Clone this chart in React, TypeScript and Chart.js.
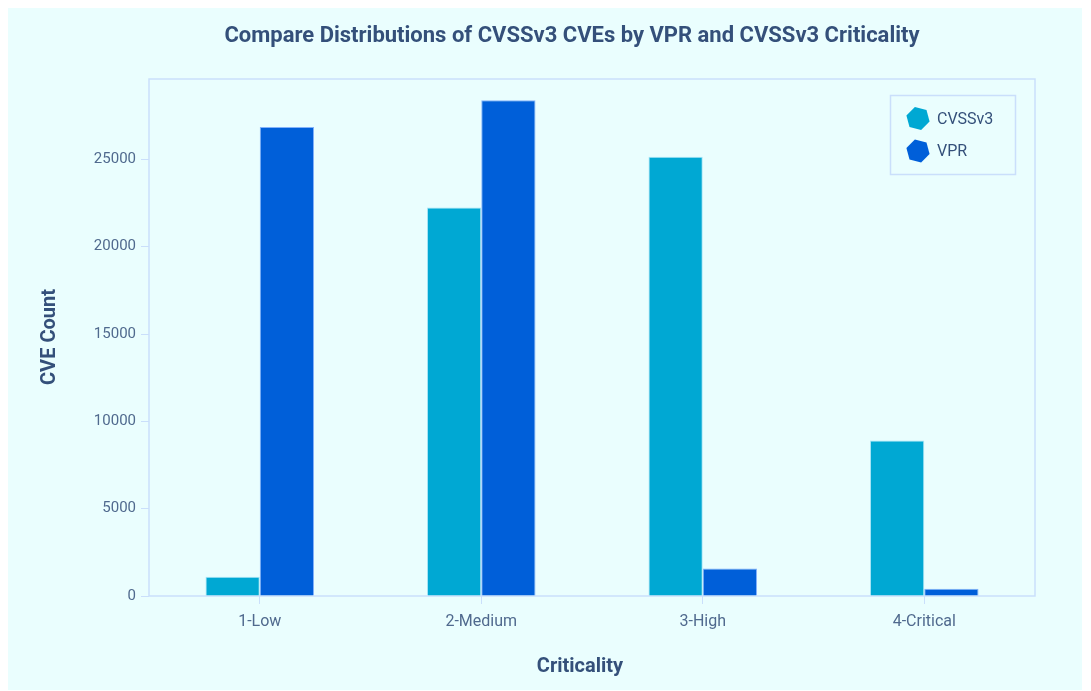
import React, { useEffect, useRef } from "react";
import { Chart, registerables } from "chart.js";

Chart.register(...registerables);

const categories = ["1-Low", "2-Medium", "3-High", "4-Critical"];
const cvssValues = [1100, 22250, 25150, 8900];
const vprValues = [26850, 28380, 1580, 410];
const seriesNames = ["CVSSv3", "VPR"];
const yTicks = [0, 5000, 10000, 15000, 20000, 25000];

const TITLE = "Compare Distributions of CVSSv3 CVEs by VPR and CVSSv3 Criticality";
const X_TITLE = "Criticality";
const Y_TITLE = "CVE Count";

const BG = "#eafefe";
const CVSS_COLOR = "#00a8d3";
const VPR_COLOR = "#005fd9";
const FRAME = "#cadffb";
const TEXT_DARK = "#34507a";
const TEXT_TICK = "#506a8e";
const FONT = "Roboto, 'Noto Sans', sans-serif";

function hexagon(ctx: CanvasRenderingContext2D, cx: number, cy: number, r: number, color: string) {
  ctx.beginPath();
  for (let i = 0; i < 6; i++) {
    const a = (Math.PI / 3) * i + Math.PI / 12;
    const x = cx + r * Math.cos(a);
    const y = cy + r * Math.sin(a);
    if (i === 0) ctx.moveTo(x, y);
    else ctx.lineTo(x, y);
  }
  ctx.closePath();
  ctx.fillStyle = color;
  ctx.fill();
}

const decorPlugin = {
  id: "decor",
  beforeDatasetsDraw(chart: any) {
    const { ctx, chartArea } = chart;
    ctx.save();
    ctx.strokeStyle = FRAME;
    ctx.lineWidth = 1.5;
    ctx.strokeRect(chartArea.left, chartArea.top, chartArea.right - chartArea.left, chartArea.bottom - chartArea.top);
    ctx.restore();
  },
  afterDraw(chart: any) {
    const { ctx } = chart;
    ctx.save();
    // title
    ctx.fillStyle = TEXT_DARK;
    ctx.textAlign = "center";
    ctx.textBaseline = "middle";
    ctx.font = `bold 22px ${FONT}`;
    ctx.fillText(TITLE, 564, 28);
    // x title
    ctx.font = `bold 20px ${FONT}`;
    ctx.fillText(X_TITLE, 572, 659);
    // y title
    ctx.save();
    ctx.translate(42, 329);
    ctx.rotate(-Math.PI / 2);
    ctx.fillText(Y_TITLE, 0, 0);
    ctx.restore();
    // legend
    const lx = 882.5, ly = 87.5, lw = 125, lh = 79;
    ctx.fillStyle = BG;
    ctx.fillRect(lx, ly, lw, lh);
    ctx.strokeStyle = FRAME;
    ctx.lineWidth = 1.5;
    ctx.strokeRect(lx, ly, lw, lh);
    const colors = [CVSS_COLOR, VPR_COLOR];
    ctx.font = `16px ${FONT}`;
    ctx.textAlign = "left";
    seriesNames.forEach((name, i) => {
      const cy = 110.5 + i * 32.5;
      hexagon(ctx, 910, cy, 12, colors[i]);
      ctx.fillStyle = TEXT_DARK;
      ctx.fillText(name, 929, cy + 1);
    });
    ctx.restore();
  },
};

export default function App() {
  const ref = useRef<HTMLCanvasElement | null>(null);
  useEffect(() => {
    if (!ref.current) return;
    const chart = new Chart(ref.current, {
      type: "bar",
      data: {
        labels: categories,
        datasets: [
          {
            label: seriesNames[0],
            data: cvssValues,
            backgroundColor: CVSS_COLOR,
            borderColor: "rgba(160,225,245,0.9)",
            borderWidth: 1,
            categoryPercentage: 0.49,
            barPercentage: 1,
          },
          {
            label: seriesNames[1],
            data: vprValues,
            backgroundColor: VPR_COLOR,
            borderColor: "rgba(120,170,250,0.9)",
            borderWidth: 1,
            categoryPercentage: 0.49,
            barPercentage: 1,
          },
        ],
      },
      options: {
        animation: false,
        responsive: false,
        maintainAspectRatio: false,
        layout: { padding: { top: 71, right: 47, left: 0, bottom: 0 } },
        plugins: {
          legend: { display: false },
          title: { display: false },
          tooltip: { enabled: false },
        },
        scales: {
          x: {
            afterFit: (s: any) => {
              s.height = 94;
            },
            grid: {
              display: true,
              offset: false,
              drawOnChartArea: false,
              drawTicks: true,
              tickLength: 8,
              color: FRAME,
              lineWidth: 1,
            },
            border: { display: false },
            ticks: {
              color: TEXT_TICK,
              font: { family: FONT, size: 16 },
              padding: 8,
              maxRotation: 0,
            },
          },
          y: {
            min: 0,
            max: 29600,
            afterFit: (s: any) => {
              s.width = 141;
            },
            afterBuildTicks: (s: any) => {
              s.ticks = yTicks.map((v) => ({ value: v }));
            },
            grid: {
              display: true,
              drawOnChartArea: false,
              drawTicks: true,
              tickLength: 8,
              color: FRAME,
              lineWidth: 1,
            },
            border: { display: false },
            ticks: {
              color: TEXT_TICK,
              font: { family: FONT, size: 15 },
              padding: 5,
              callback: (v: any) => String(v),
            },
          },
        },
      },
      plugins: [decorPlugin],
    });
    return () => chart.destroy();
  }, []);
  return (
    <div style={{ width: 1074, height: 682, background: BG }}>
      <canvas ref={ref} width={1074} height={682} style={{ display: "block" }} />
    </div>
  );
}
